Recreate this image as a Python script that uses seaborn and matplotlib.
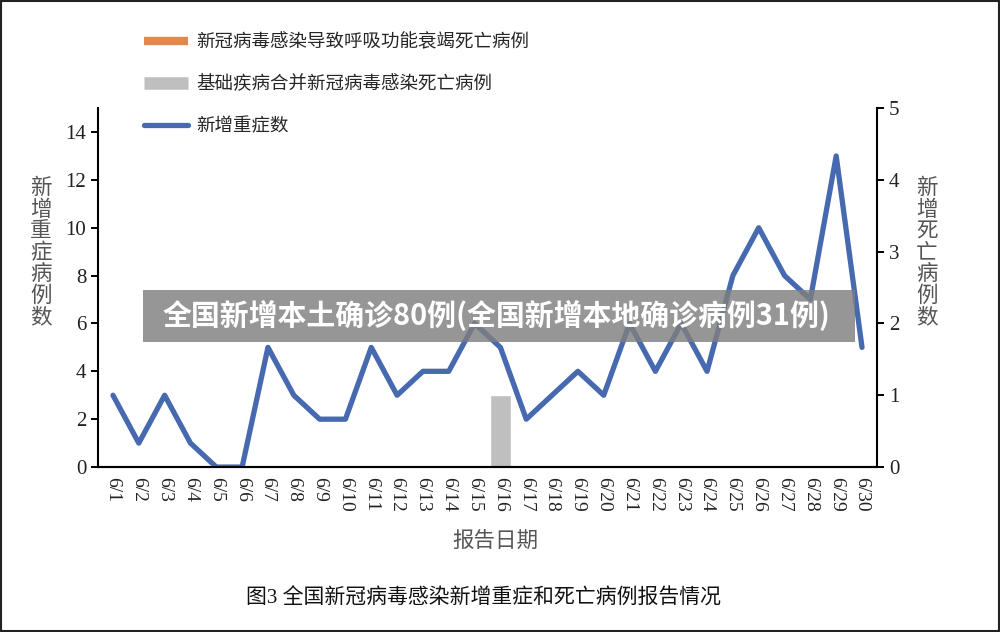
"""
图3 全国新冠病毒感染新增重症和死亡病例报告情况
左轴：新增重症数（折线）  右轴：新增死亡病例数（柱）
"""
import numpy as np
import pandas as pd
import matplotlib
matplotlib.use("Agg")
import matplotlib.pyplot as plt
from matplotlib.lines import Line2D
from matplotlib.patches import Rectangle
import seaborn as sns

sns.set_style("white")
plt.rcParams["font.family"] = ["Liberation Serif", "Noto Sans CJK SC", "DejaVu Sans"]

# ── 数据
dates = [f"6/{d}" for d in range(1, 31)]
severe = [3, 1, 3, 1, 0, 0, 5, 3, 2, 2, 5, 3, 4, 4, 6,
          5, 2, 3, 4, 3, 6, 4, 6, 4, 8, 10, 8, 7, 13, 5]
death_resp = [0] * 30                       # 新冠病毒感染导致呼吸功能衰竭死亡病例
death_basic = [0] * 15 + [1] + [0] * 14      # 基础疾病合并新冠病毒感染死亡病例

lbl_resp = "新冠病毒感染导致呼吸功能衰竭死亡病例"
lbl_basic = "基础疾病合并新冠病毒感染死亡病例"
lbl_severe = "新增重症数"

C_BLUE, C_ORANGE, C_GRAY = "#4669B0", "#E0894A", "#BFBFBF"

df = pd.DataFrame({"date": dates, "severe": severe,
                   "resp": death_resp, "basic": death_basic})
df["pos"] = np.arange(len(df))

# ── 图
fig = plt.figure(figsize=(10, 6.32), dpi=100)
ax = fig.add_axes([0.098, 0.261, 0.779, 0.568])
ax2 = ax.twinx()

# 柱（右轴）
sns.barplot(data=df, x="date", y="basic", ax=ax2, color=C_GRAY, width=0.8,
            saturation=1, order=dates)
sns.barplot(data=df, x="date", y="resp", ax=ax2, color=C_ORANGE, width=0.8,
            saturation=1, order=dates)

# 折线（左轴）
sns.lineplot(data=df, x="pos", y="severe", ax=ax, color=C_BLUE, lw=3.8,
             solid_joinstyle="round", solid_capstyle="round")

ax.set_zorder(ax2.get_zorder() + 1)
ax.patch.set_visible(False)

ax.set_xlim(-0.58, len(dates) - 0.42)
ax.set_ylim(0, 15)
ax.set_yticks(range(0, 15, 2))
ax2.set_ylim(0, 5)
ax2.set_yticks(range(0, 6))

ax.set_xticks(df["pos"])
ax.set_xticklabels(dates, rotation=270, fontsize=14, color="#222222")
ax.set_xticks(np.arange(len(dates) + 1) - 0.5, minor=True)
ax.tick_params(axis="x", which="major", length=0, pad=7)
ax.tick_params(axis="x", which="minor", length=5, width=1.4, direction="inout", color="black")
ax.tick_params(axis="y", length=5, width=1.4, labelsize=15, colors="black", labelcolor="#222222")
ax2.tick_params(axis="y", length=5, width=1.4, labelsize=15, colors="black", labelcolor="#222222")
ax2.tick_params(axis="x", length=0, labelbottom=False)

for a in (ax, ax2):
    a.set_xlabel("")
    a.set_ylabel("")
    a.spines["top"].set_visible(False)
    for s in ("left", "right", "bottom"):
        a.spines[s].set_color("black")
        a.spines[s].set_linewidth(1.5)
ax.spines["right"].set_visible(False)
ax2.spines["left"].set_visible(False)

# 轴标题（竖排）
fig.text(0.041, 0.6, "\n".join("新增重症病例数"), fontsize=15.5, color="#555555",
         ha="center", va="center", linespacing=0.97, family=["Noto Sans CJK SC"])
fig.text(0.927, 0.6, "\n".join("新增死亡病例数"), fontsize=15.5, color="#555555",
         ha="center", va="center", linespacing=0.97, family=["Noto Sans CJK SC"])
fig.text(0.495, 0.145, "报告日期", fontsize=15.5, color="#555555",
         ha="center", va="center", family=["Noto Sans CJK SC"])

# 图例
handles = [
    Line2D([], [], color=C_ORANGE, lw=6, solid_capstyle="butt"),
    Line2D([], [], color=C_GRAY, lw=9, solid_capstyle="butt"),
    Line2D([], [], color=C_BLUE, lw=3.8, solid_capstyle="round"),
]
fig.legend(handles, [lbl_resp, lbl_basic, lbl_severe], loc="upper left",
           bbox_to_anchor=(0.127, 0.974), frameon=False,
           handlelength=2.4, handletextpad=0.45, labelspacing=1.3,
           prop={"family": ["Noto Sans CJK SC"], "size": 13.3})

# 图注
fig.text(0.484, 0.053, "图3 全国新冠病毒感染新增重症和死亡病例报告情况", fontsize=15,
         color="#111111", ha="center", va="center")

# 水印横幅
fig.patches.append(Rectangle((0.143, 1 - 342 / 632), 0.712, 52 / 632,
                             transform=fig.transFigure, facecolor="#7f7f7f",
                             alpha=0.82, edgecolor="none", zorder=10))
fig.text(0.496, 1 - 316 / 632, "全国新增本土确诊80例(全国新增本地确诊病例31例)",
         fontsize=20.8, color="white", weight="bold", ha="center", va="center",
         family=["Noto Sans CJK SC"], zorder=11)

# 外框
fig.patches.append(Rectangle((0.001, 0.002), 0.998, 0.996, transform=fig.transFigure,
                             facecolor="none", edgecolor="#222222", lw=1.5, zorder=12))

fig.savefig("out.png", dpi=100)
